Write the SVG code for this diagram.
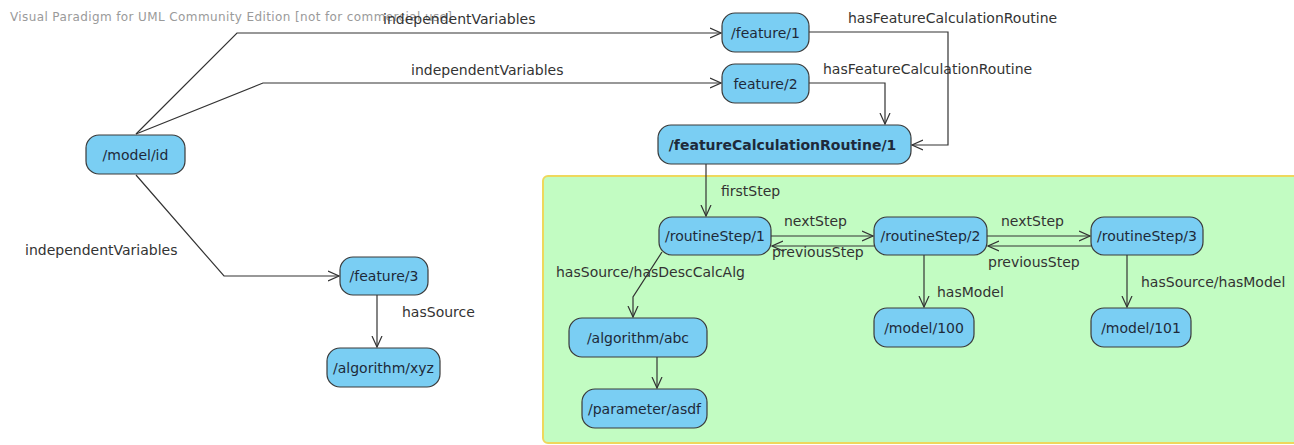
<svg xmlns="http://www.w3.org/2000/svg" width="1294" height="445" viewBox="0 0 1294 445">
<style>
.n rect{fill:#7ACEF3;stroke:#3a3a3a;stroke-width:1.2}
.n text{font-family:"DejaVu Sans",sans-serif;font-size:14px;fill:#1e2a3a;text-anchor:middle;dominant-baseline:central}
.e path{fill:none;stroke:#333;stroke-width:1.2}
.lbl{font-family:"DejaVu Sans",sans-serif;font-size:14px;fill:#333}
.wm{font-family:"DejaVu Sans",sans-serif;font-size:12px;fill:#9a9a9a}
</style>
<defs>
<marker id="a" viewBox="0 0 12 12" refX="11" refY="6" markerWidth="12" markerHeight="12" markerUnits="userSpaceOnUse" orient="auto">
<path d="M0,1 L11,6 L0,11" fill="none" stroke="#333" stroke-width="1.2"/>
</marker>
</defs>
<rect id="container" x="543" y="176" width="760" height="267" rx="5" fill="#C2FCC2" stroke="#EED85C" stroke-width="2"/>
<text class="wm" x="10" y="21" textLength="442" lengthAdjust="spacing">Visual Paradigm for UML Community Edition [not for commercial use]</text>
<g class="e" id="connectors">
<path d="M136,134 L237,33 L721,33" marker-end="url(#a)"/>
<path d="M136,134 L263,83 L721,83" marker-end="url(#a)"/>
<path d="M136,175 L224,276 L339,276" marker-end="url(#a)"/>
<path d="M809,32 L948,32 L948,145 L912,145" marker-end="url(#a)"/>
<path d="M809,83 L885,83 L885,124" marker-end="url(#a)"/>
<path d="M706,164 L706,216" marker-end="url(#a)"/>
<path d="M771,236 L873,236" marker-end="url(#a)"/>
<path d="M874,246 L772,246" marker-end="url(#a)"/>
<path d="M987,236 L1090,236" marker-end="url(#a)"/>
<path d="M1091,246 L988,246" marker-end="url(#a)"/>
<path d="M924,255 L924,307" marker-end="url(#a)"/>
<path d="M1127,255 L1127,307" marker-end="url(#a)"/>
<path d="M662,252 L633,297 L633,317" marker-end="url(#a)"/>
<path d="M657,357 L657,388" marker-end="url(#a)"/>
<path d="M377,295 L377,347" marker-end="url(#a)"/>
</g>
<g id="labels">
<text class="lbl" x="383" y="24">independentVariables</text>
<text class="lbl" x="411" y="75">independentVariables</text>
<text class="lbl" x="25" y="255">independentVariables</text>
<text class="lbl" x="848" y="23">hasFeatureCalculationRoutine</text>
<text class="lbl" x="823" y="74">hasFeatureCalculationRoutine</text>
<text class="lbl" x="721" y="196">firstStep</text>
<text class="lbl" x="784" y="226">nextStep</text>
<text class="lbl" x="772" y="257">previousStep</text>
<text class="lbl" x="1001" y="226">nextStep</text>
<text class="lbl" x="988" y="267">previousStep</text>
<text class="lbl" x="556" y="277">hasSource/hasDescCalcAlg</text>
<text class="lbl" x="937" y="297">hasModel</text>
<text class="lbl" x="1141" y="287">hasSource/hasModel</text>
<text class="lbl" x="402" y="317">hasSource</text>
</g>
<g class="n" id="model-id"><rect x="86" y="135" width="99" height="39" rx="13"/><text x="135.5" y="154.5">/model/id</text></g>
<g class="n" id="feature-1"><rect x="722" y="13" width="87" height="39" rx="13"/><text x="765.5" y="32.5">/feature/1</text></g>
<g class="n" id="feature-2"><rect x="722" y="64" width="87" height="39" rx="13"/><text x="765.5" y="83.5">feature/2</text></g>
<g class="n" id="fcr-1"><rect x="658" y="125" width="253" height="39" rx="13"/><text x="782.5" y="144.5" font-weight="bold">/featureCalculationRoutine/1</text></g>
<g class="n" id="feature-3"><rect x="340" y="257" width="88" height="38" rx="13"/><text x="384" y="276">/feature/3</text></g>
<g class="n" id="algorithm-xyz"><rect x="327" y="348" width="113" height="39" rx="13"/><text x="383.5" y="367.5">/algorithm/xyz</text></g>
<g class="n" id="routineStep-1"><rect x="659" y="217" width="112" height="38" rx="13"/><text x="715" y="236">/routineStep/1</text></g>
<g class="n" id="routineStep-2"><rect x="874" y="217" width="113" height="38" rx="13"/><text x="930.5" y="236">/routineStep/2</text></g>
<g class="n" id="routineStep-3"><rect x="1091" y="217" width="112" height="38" rx="13"/><text x="1147" y="236">/routineStep/3</text></g>
<g class="n" id="model-100"><rect x="874" y="308" width="100" height="39" rx="13"/><text x="924" y="327.5">/model/100</text></g>
<g class="n" id="model-101"><rect x="1091" y="308" width="100" height="39" rx="13"/><text x="1141" y="327.5">/model/101</text></g>
<g class="n" id="algorithm-abc"><rect x="569" y="318" width="138" height="39" rx="13"/><text x="638" y="337.5">/algorithm/abc</text></g>
<g class="n" id="parameter-asdf"><rect x="582" y="389" width="125" height="39" rx="13"/><text x="644.5" y="408.5">/parameter/asdf</text></g>
</svg>
